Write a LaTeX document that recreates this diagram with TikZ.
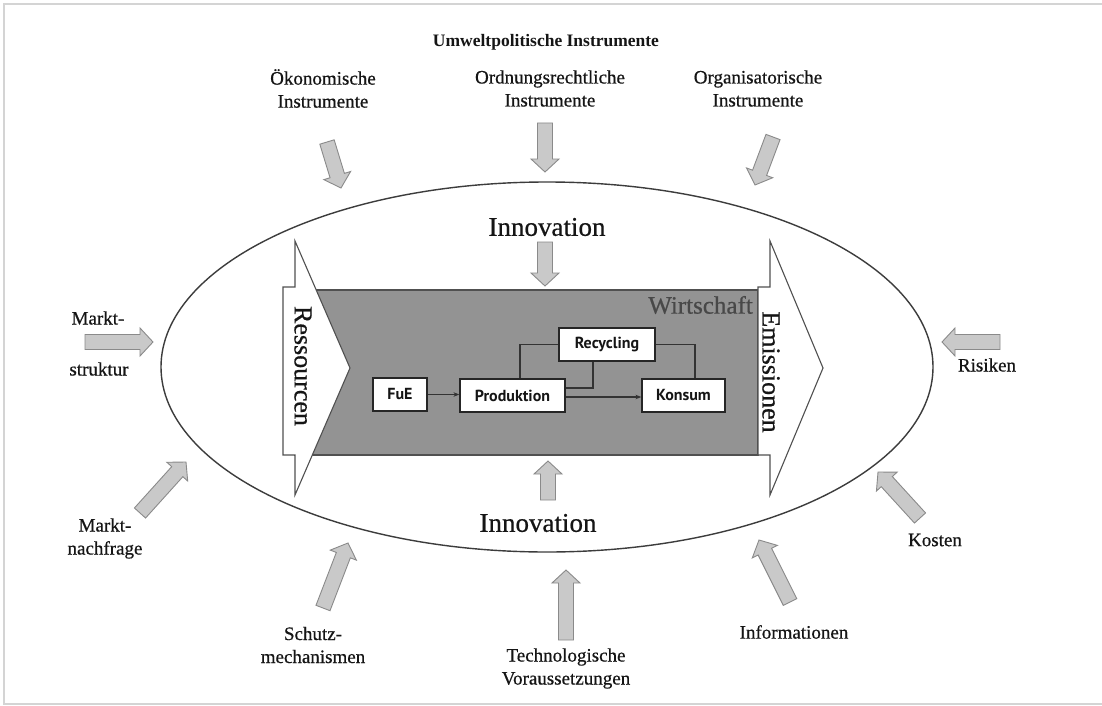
\documentclass[tikz,border=0pt]{standalone}
\usepackage{fontspec}
\setmainfont{Liberation Serif}
\newfontfamily\lblfont[FakeBold=0.6]{Liberation Serif}
\newfontfamily\boxfont{PT Sans}
\usetikzlibrary{calc,arrows.meta}

\definecolor{framegray}{HTML}{D4D4D4}
\definecolor{arrfill}{HTML}{C9C9C9}
\definecolor{arrdraw}{HTML}{8A8A8A}
\definecolor{ovalline}{HTML}{3C3C3C}
\definecolor{econfill}{HTML}{939393}
\definecolor{econline}{HTML}{505050}
\definecolor{econtext}{HTML}{484848}
\definecolor{txt}{HTML}{151515}

% grey block arrow from #1 (tail) to #2 (tip)
\newcommand\blockarrow[2]{%
  \coordinate (tmpH) at ($(#2)!13pt!(#1)$);
  \draw[blockarr] ($(#1)!7.5pt!90:(#2)$) -- ($(tmpH)!7.5pt!-90:(#1)$)
    -- ($(tmpH)!14pt!-90:(#1)$) -- (#2) -- ($(tmpH)!14pt!90:(#1)$)
    -- ($(tmpH)!7.5pt!90:(#1)$) -- ($(#1)!7.5pt!-90:(#2)$) -- cycle;}

\begin{document}
\begin{tikzpicture}[x=1pt,y=-1pt,
  lbl/.style={font=\lblfont\fontsize{19}{23}\selectfont, align=center, text=txt, inner sep=0pt},
  title/.style={font=\bfseries\fontsize{17.5}{21}\selectfont, text=txt, inner sep=0pt},
  innov/.style={font=\lblfont\fontsize{27}{30}\selectfont, text=txt, inner sep=0pt},
  flowlbl/.style={font=\lblfont\fontsize{26}{30}\selectfont, text=txt, inner sep=0pt, rotate=-90},
  blockarr/.style={fill=arrfill, draw=arrdraw, line width=0.9pt, line join=miter},
  bigarrow/.style={fill=white, draw=econline, line width=1.1pt, line join=miter},
  procbox/.style={draw=black!85, fill=white, line width=1.2pt, inner sep=0pt,
    font=\boxfont\bfseries\fontsize{16}{18}\selectfont, text=txt},
  link/.style={draw=black!80, line width=1.1pt},
  linkarr/.style={link, -{Stealth[length=6pt,width=4.5pt]}}
]
\useasboundingbox (0,0) rectangle (1102,706);
\fill[white] (0,0) rectangle (1102,706);

% light page frame
\draw[framegray, line width=1.2pt] (1102,4) -- (4,4) -- (4,704) -- (1102,704);

% the oval
\draw[ovalline, line width=1.4pt] (547,367) ellipse [x radius=386, y radius=185];

% economy block
\draw[fill=econfill, draw=econline, line width=1.3pt] (295,290) rectangle (758,455);
\node[anchor=east, font=\lblfont\fontsize{25}{30}\selectfont, text=econtext, inner sep=0pt]
  (wirt) at (753,305) {Wirtschaft};

% resources in, emissions out
\draw[bigarrow] (283,287) -- (295,287) -- (295,241) -- (350,368) -- (295,495)
  -- (295,455) -- (283,455) -- cycle;
\draw[bigarrow] (758,287) -- (770,287) -- (770,241) -- (823,368) -- (770,495)
  -- (770,455) -- (758,455) -- cycle;
\node[flowlbl] (res) at (303,366) {Ressourcen};
\node[flowlbl] (emi) at (771,372) {Emissionen};

% process boxes
\node[procbox, minimum width=54pt, minimum height=33pt] (fue)  at (400,394.5) {FuE};
\node[procbox, minimum width=105pt, minimum height=33pt] (prod) at (512.5,395.5) {Produktion};
\node[procbox, minimum width=96pt, minimum height=33pt] (rec)  at (607,344.5) {Recycling};
\node[procbox, minimum width=83pt, minimum height=33pt] (kon)  at (683.5,395.5) {Konsum};

\draw[linkarr] (fue.east) -- (prod.west |- fue.east);
\draw[linkarr] ([yshift=-1.5pt]prod.east) -- ([yshift=-1.5pt]kon.west);
\draw[link] (rec.west) -| ([xshift=7.5pt]prod.north);
\draw[link] ([xshift=-14pt]rec.south) |- ([yshift=7.5pt]prod.east);
\draw[link] (rec.east) -| ([xshift=11.5pt]kon.north);

% innovation labels and arrows
\node[innov] (innTop) at (547,227) {Innovation};
\node[innov] (innBot) at (538,523) {Innovation};
\coordinate (iTa) at (545,242); \coordinate (iTb) at (545,286);
\coordinate (iBa) at (548,500); \coordinate (iBb) at (548,461);
\blockarrow{iTa}{iTb}
\blockarrow{iBa}{iBb}

% policy instruments
\node[title] (ttl) at (546,42) {Umweltpolitische Instrumente};
\node[lbl] (oek) at (323,88.5) {Ökonomische\\Instrumente};
\node[lbl] (ord) at (550,88.5) {Ordnungsrechtliche\\Instrumente};
\node[lbl] (org) at (758,88.5) {Organisatorische\\Instrumente};
\coordinate (oekA) at (327,142); \coordinate (oekB) at (341,188);
\coordinate (ordA) at (545,123); \coordinate (ordB) at (545,172);
\coordinate (orgA) at (773,137); \coordinate (orgB) at (755,185);
\blockarrow{oekA}{oekB}
\blockarrow{ordA}{ordB}
\blockarrow{orgA}{orgB}

% market and other drivers
\node[lbl] (mk1) at (98,318) {Markt-};
\node[lbl] (mk2) at (99,369) {struktur};
\coordinate (msA) at (85,342); \coordinate (msB) at (153,342);
\blockarrow{msA}{msB}

\node[lbl] (ris) at (987,365) {Risiken};
\coordinate (riA) at (1000,342); \coordinate (riB) at (942,342);
\blockarrow{riA}{riB}

\node[lbl] (mnf) at (105,538.5) {Markt-\\nachfrage};
\coordinate (mnA) at (140,513); \coordinate (mnB) at (186,462);
\blockarrow{mnA}{mnB}

\node[lbl] (sch) at (313,645) {Schutz-\\mechanismen};
\coordinate (scA) at (323,608); \coordinate (scB) at (348,543);
\blockarrow{scA}{scB}

\node[lbl] (tec) at (566,668.5) {Technologische\\Voraussetzungen};
\coordinate (teA) at (566,640); \coordinate (teB) at (566,570);
\blockarrow{teA}{teB}

\node[lbl] (inf) at (794,632) {Informationen};
\coordinate (inA) at (790,602); \coordinate (inB) at (759,540);
\blockarrow{inA}{inB}

\node[lbl] (kos) at (935,540) {Kosten};
\coordinate (koA) at (920,518); \coordinate (koB) at (878,472);
\blockarrow{koA}{koB}
\end{tikzpicture}
\end{document}
